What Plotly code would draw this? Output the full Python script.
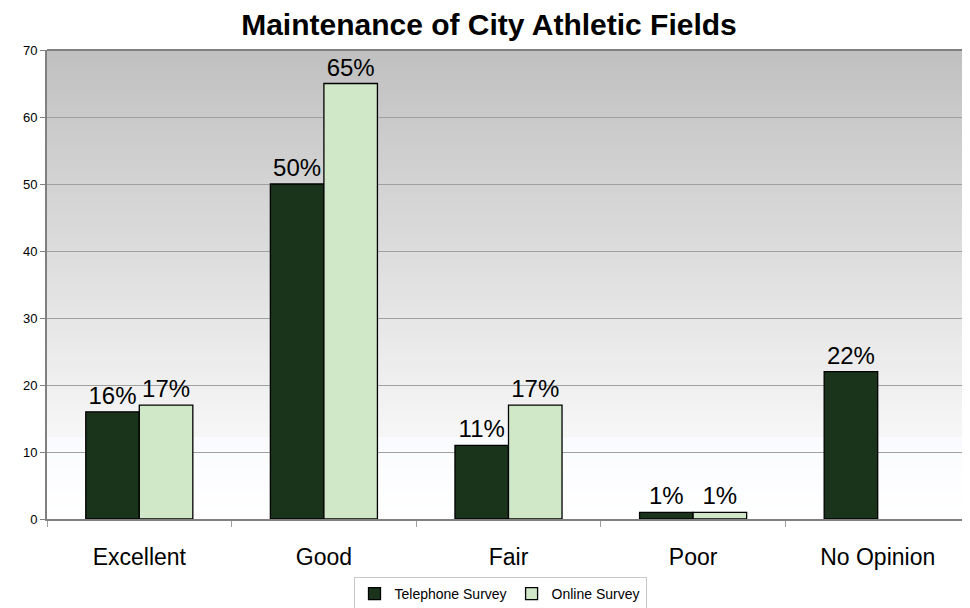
import plotly.graph_objects as go

categories = ["Excellent", "Good", "Fair", "Poor", "No Opinion"]
telephone = [16, 50, 11, 1, 22]
online = [17, 65, 17, 1, None]
tel_labels = ["16%", "50%", "11%", "1%", "22%"]
onl_labels = ["17%", "65%", "17%", "1%", ""]
y_ticks = [0, 10, 20, 30, 40, 50, 60, 70]

FONT = "Liberation Sans, Arial, sans-serif"

# the page body has an 8px margin, so the figure is laid out 8px in from the window
W, H = 962, 600
OFF = 8

fig = go.Figure()
fig.add_trace(go.Bar(
    name="Telephone Survey", x=categories, y=telephone,
    marker=dict(color="#1a331b", line=dict(color="#000000", width=1.3)),
    text=tel_labels, textposition="outside", cliponaxis=False,
    textfont=dict(size=24, color="#000000", family=FONT),
))
fig.add_trace(go.Bar(
    name="Online Survey", x=categories, y=online,
    marker=dict(color="#d0e8c8", line=dict(color="#000000", width=1.3)),
    text=onl_labels, textposition="outside", cliponaxis=False,
    textfont=dict(size=24, color="#000000", family=FONT),
))

# gradient background bands
shapes = []
n = 80
split = 12 / 70
def lerp(a, b, t):
    return tuple(round(a[i] + (b[i] - a[i]) * t) for i in range(3))
for i in range(n):
    y0 = i / n
    y1 = (i + 1) / n
    ym = (y0 + y1) / 2
    if ym >= split:
        t = (ym - split) / (1 - split)
        c = lerp((247, 247, 247), (192, 192, 192), t)
    else:
        t = ym / split
        c = lerp((255, 255, 255), (250, 251, 254), t)
    shapes.append(dict(type="rect", xref="paper", yref="paper", x0=0, x1=1, y0=y0, y1=y1 + 0.002,
                       fillcolor="rgb(%d,%d,%d)" % c, line=dict(width=0), layer="below"))
shapes.append(dict(type="line", xref="paper", yref="paper", x0=0, x1=1, y0=1, y1=1,
                   line=dict(color="#808080", width=2)))

fig.update_layout(
    width=W, height=H,
    margin=dict(l=47 - OFF, r=0, t=50 - OFF, b=H - (519 - OFF), autoexpand=False),
    paper_bgcolor="#ffffff", plot_bgcolor="rgba(0,0,0,0)",
    font=dict(family=FONT, color="#000000"),
    title=dict(text="<b>Maintenance of City Athletic Fields</b>",
               x=(489 - OFF) / W, xanchor="center",
               xref="container", yref="container",
               y=1 - (24.5 - OFF) / H, yanchor="middle",
               font=dict(size=30, family=FONT, color="#000000")),
    barmode="group", bargap=0.42, bargroupgap=0,
    showlegend=True,
    legend=dict(orientation="h", xref="container", yref="container",
                x=(500 - OFF) / W, xanchor="center", y=1 - (594 - OFF) / H, yanchor="middle",
                font=dict(size=14, family=FONT, color="#000000"),
                bordercolor="#c8c8c8", borderwidth=1, bgcolor="#ffffff",
                itemwidth=30, traceorder="normal", tracegroupgap=0),
    shapes=shapes,
)
fig.update_xaxes(
    type="category", range=[-0.5, 4.5], showgrid=False, automargin=False,
    showline=True, linecolor="#808080", linewidth=2,
    ticks="outside", tickson="boundaries", ticklen=6, tickcolor="#a0a0a0",
    ticklabelstandoff=16,
    tickfont=dict(size=23, family=FONT, color="#000000"),
)
fig.update_yaxes(
    range=[0, 70], tickvals=y_ticks, showgrid=True, gridcolor="#a0a0a0", gridwidth=1,
    showline=True, linecolor="#808080", linewidth=2, automargin=False,
    ticks="outside", ticklen=5, tickcolor="#808080",
    tickfont=dict(size=13, family=FONT, color="#000000"), zeroline=False,
)

fig.write_html("out.html")
